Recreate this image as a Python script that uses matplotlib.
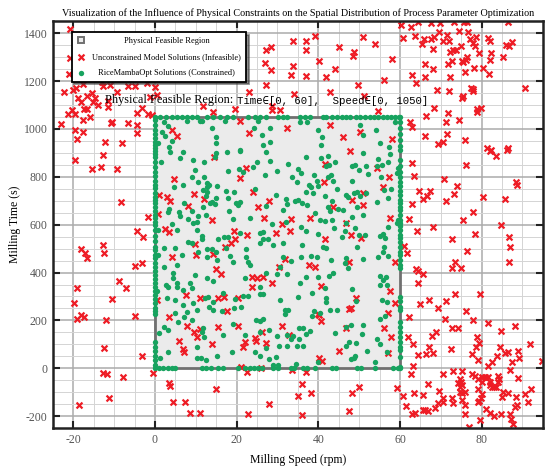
import matplotlib
matplotlib.use("Agg")
import matplotlib.pyplot as plt
from matplotlib.patches import Rectangle
from matplotlib.lines import Line2D
from matplotlib.ticker import MultipleLocator

plt.rcParams['font.family'] = ['Liberation Serif', 'DejaVu Serif']
plt.rcParams['axes.unicode_minus'] = False

# ---------------- data ----------------
title = "Visualization of the Influence of Physical Constraints on the Spatial Distribution of Process Parameter Optimization"
xlabel = "Milling Speed (rpm)"
ylabel = "Milling Time (s)"
legend_labels = ["Physical Feasible Region",
                 "Unconstrained Model Solutions (Infeasible)",
                 "RiceMambaOpt Solutions (Constrained)"]
note_left = "Physical Feasible Region: "
note_right = "Time\u2208[0, 60],  Speed\u2208[0, 1050]"
region_x = [0, 60]
region_y = [0, 1050]
xticks = [-20, 0, 20, 40, 60, 80]
yticks = [-200, 0, 200, 400, 600, 800, 1000, 1200, 1400]
xlim = [-25, 95]
ylim = [-250, 1450]

# unconstrained (infeasible) solutions
red_pts = [
    # upper-left cluster
    (-20.8, 1418), (-20.8, 1295), (-21.0, 1228), (-22.3, 1156), (-20.2, 1162), (-19.4, 1170),
    (-17.7, 1187), (-13.1, 1198), (-11.0, 1184), (-12.8, 1178), (-6.5, 1180), (-4.9, 1180),
    (-2.0, 1191), (0.0, 1177), (-9.4, 1153), (-15.5, 1152), (-16.7, 1138), (-18.8, 1131),
    (-18.2, 1111), (-14.7, 1128), (-15.1, 1111), (-11.4, 1117), (-13.9, 1100), (-11.4, 1093),
    (-20.4, 1079), (-17.4, 1082), (-16.7, 1082), (-21.2, 1061), (-19.6, 1061), (-15.9, 1049),
    (-17.6, 1038), (-22.9, 1019), (-19.6, 996), (-17.6, 989), (-19.2, 958), (-10.6, 1031),
    (-10.8, 1024), (-6.5, 1024), (-4.5, 1017), (-1.6, 1063), (-0.8, 1058), (-4.5, 1065),
    (-3.3, 1086), (-1.2, 1135), (0.4, 1142), (-12.3, 947), (-8.2, 943), (-4.3, 982),
    (4.1, 996), (5.3, 972),
    # upper-middle
    (11.7, 1098), (14.1, 1072), (19.6, 1082), (20.8, 1033), (23.1, 1153), (27.1, 1330),
    (28.3, 1344), (26.9, 1277), (28.3, 1247), (27.2, 1184), (28.6, 1098), (28.6, 1079),
    (30.6, 1079), (33.9, 1368), (33.7, 1263), (33.2, 1226), (34.1, 1145), (37.1, 1368),
    (37.0, 1330), (37.1, 1221), (39.2, 1390), (40.2, 1284), (41.9, 1219), (44.1, 1251),
    (42.9, 1156), (45.1, 1341), (48.8, 1320), (48.4, 1306), (49.6, 1184), (23.1, 982),
    (32.4, 1003), (42.9, 1017), (46.1, 968), (50.2, 989),
    # upper-right cluster
    (50.9, 1386), (53.9, 1355), (58.1, 1291), (56.2, 1205), (51.2, 1139), (54.7, 1075),
    (60.2, 1435), (62.6, 1425), (64.5, 1446), (67.5, 1442), (69.8, 1442), (73.3, 1449),
    (75.7, 1449), (76.5, 1446), (86.5, 1449), (60.7, 1382), (63.7, 1390), (65.9, 1376),
    (65.5, 1355), (67.5, 1376), (68.3, 1386), (69.6, 1404), (70.5, 1368), (71.6, 1393),
    (72.1, 1368), (74.5, 1410), (76.7, 1404), (77.2, 1376), (78.6, 1386), (78.0, 1358),
    (78.4, 1348), (81.6, 1382), (82.1, 1368), (86.0, 1351), (86.8, 1348), (87.4, 1365),
    (68.0, 1333), (72.2, 1323), (73.1, 1330), (73.7, 1332), (74.9, 1348), (72.7, 1284),
    (71.8, 1270), (75.1, 1284), (76.2, 1288), (76.5, 1302), (75.5, 1281), (79.4, 1316),
    (82.3, 1316), (82.0, 1288), (85.3, 1302), (66.1, 1270), (68.2, 1251), (72.3, 1219),
    (78.2, 1256), (80.4, 1256), (81.9, 1228), (75.9, 1237), (62.9, 1226), (66.1, 1219),
    (63.9, 1191), (69.0, 1163), (72.1, 1159), (77.3, 1173), (77.8, 1167), (78.0, 1159),
    (75.5, 1139), (75.1, 1131), (90.6, 1173), (68.3, 1089), (66.4, 1056), (71.8, 1065),
    (71.3, 1031), (74.5, 1038), (78.8, 1072), (79.8, 1089), (78.9, 1084), (62.5, 1031),
    (63.0, 1007), (66.1, 972), (71.6, 978), (70.5, 947), (69.4, 936), (75.9, 954),
    (58.1, 958), (81.2, 922), (82.2, 912), (86.5, 919),
    # middle-left
    (-19.6, 870), (-12.8, 891), (-15.5, 833), (-13.3, 843), (-9.2, 833), (-8.4, 694),
    (-1.6, 634), (-4.5, 574), (-2.9, 550), (-18.2, 497), (-17.2, 483), (-16.7, 462),
    (-12.8, 515), (-12.5, 480), (-4.9, 427), (-3.3, 441), (-8.8, 365),
    (4.6, 791), (1.1, 724), (3.0, 714), (3.7, 699), (0.8, 645), (2.4, 581), (3.4, 568),
    (9.5, 728), (8.0, 678), (9.8, 518), (4.1, 466), (10.0, 473),
    # middle (inside region)
    (14.4, 882), (22.3, 838), (20.7, 797), (23.9, 735), (12.0, 707), (14.0, 620),
    (25.3, 675), (27.8, 700), (26.8, 627), (31.0, 602), (33.3, 624), (29.6, 567),
    (33.1, 574), (38.0, 627), (41.6, 854), (41.4, 777), (47.8, 909), (50.9, 734),
    (48.2, 703), (51.0, 682), (43.7, 673), (46.7, 609), (47.9, 557), (50.5, 546),
    (41.7, 539), (19.3, 575), (22.5, 557), (19.6, 540), (18.5, 522), (17.1, 508),
    (14.3, 478), (14.9, 413), (16.1, 394), (23.7, 383), (25.1, 379), (26.4, 383),
    (30.4, 422), (31.8, 455), (37.6, 432), (39.2, 425), (47.6, 443), (28.6, 355),
    # middle-right
    (82.0, 909), (83.4, 889), (86.1, 912), (62.9, 859), (76.1, 850), (63.5, 805),
    (70.9, 790), (74.0, 763), (88.3, 780), (88.6, 766), (64.7, 742), (67.4, 741),
    (66.5, 721), (65.7, 706), (73.2, 727), (71.2, 700), (80.4, 714), (85.7, 707),
    (62.9, 685), (77.8, 654), (62.3, 624), (75.5, 620), (68.2, 592), (64.2, 575),
    (84.7, 599), (78.4, 561), (72.8, 539), (86.7, 547), (87.0, 505), (61.1, 512),
    (61.6, 480), (76.3, 492), (86.7, 446), (73.5, 446), (72.7, 420), (74.9, 418),
    (63.8, 415), (64.5, 408), (65.6, 394), (64.3, 358),
    (54.3, 836), (57.3, 801), (55.9, 756), (57.6, 627), (58.8, 446),
    # lower-left
    (-19.0, 337), (-7.2, 337), (-19.8, 271), (-10.6, 288), (-19.0, 206), (-18.0, 223),
    (-17.4, 213), (-12.1, 202), (-4.9, 219), (-12.5, 86), (-3.3, 51), (-12.7, -21),
    (-11.7, -25), (-7.8, -38), (-0.6, -18), (-11.2, -126), (-18.5, -153), (3.5, -60),
    (3.7, -74), (4.3, -142), (7.3, -142), (8.6, -188), (11.0, -185),
    (0.4, 285), (7.5, 306), (3.5, 213), (7.8, 177), (6.0, 114), (6.8, 79), (7.1, 67),
    (9.5, 150), (10.2, 132), (10.9, 164), (11.0, 295),
    # lower-middle
    (23.7, 341), (15.5, 295), (16.9, 299), (20.4, 295), (17.6, 241), (15.5, 174),
    (20.4, 178), (13.9, 100), (22.0, 109), (21.6, 90), (24.5, 125), (24.7, 115),
    (26.1, 153), (27.2, 104), (31.0, 177), (32.9, 139), (39.8, 225), (40.2, 223),
    (40.6, 198), (40.2, 44), (40.8, 32), (45.1, 72), (47.5, 248), (48.0, 253),
    (49.2, 295), (46.7, 167), (40.6, 344),
    (21.0, 7), (22.5, -17), (25.9, 0), (33.5, -7), (37.0, -17), (14.9, -88), (36.1, -67),
    (35.1, -114), (38.2, -102), (28.0, -149), (22.9, -191), (36.1, -195), (48.2, -102),
    (50.0, -78), (47.5, -177),
    # lower-right cluster
    (57.6, 323), (58.9, 274), (57.1, 230), (56.2, 167), (57.8, 129), (57.1, 62),
    (73.5, 310), (79.6, 309), (64.9, 269), (67.1, 285), (71.3, 281), (69.2, 253),
    (62.2, 213), (76.1, 241), (71.0, 205), (78.0, 202), (72.7, 167), (74.3, 170),
    (81.6, 188), (88.2, 177), (84.7, 156), (68.7, 150), (67.8, 135), (61.9, 132),
    (78.8, 129), (79.4, 104), (78.5, 88), (63.1, 100), (67.2, 90), (72.5, 79),
    (84.5, 88), (91.8, 102), (64.5, 56), (66.3, 61), (68.2, 62), (77.6, 60),
    (79.0, 35), (83.7, 51), (85.7, 62), (86.5, 69), (88.8, 72), (87.5, 28),
    (89.2, 42), (82.6, 28), (81.6, 10), (94.7, 30), (63.1, 11), (62.7, -25),
    (70.5, -25), (73.1, -10), (75.3, -10), (77.7, -24), (78.4, -31), (80.0, -38),
    (80.8, -35), (81.6, -35), (79.2, -46), (80.0, -56), (74.7, -46), (75.0, -59),
    (75.3, -70), (74.7, -77), (74.3, -60), (84.1, -31), (84.3, -46), (84.1, -56),
    (86.9, -7), (89.0, -42), (82.0, -56), (82.5, -80), (83.0, -80), (83.4, -80),
    (82.0, -70), (85.3, -100), (86.5, -102), (84.9, -121), (90.6, -109), (92.1, -88),
    (91.4, -142), (88.3, -119), (88.6, -153), (88.2, -160), (86.9, -192), (87.2, -213),
    (87.6, -234), (79.6, -216), (77.0, -247), (84.7, -192), (83.0, -199), (82.0, -185),
    (81.1, -172), (75.9, -191), (75.8, -153), (75.3, -132), (75.3, -105), (75.9, -100),
    (74.7, -98), (79.2, -88), (80.2, -109), (79.8, -126), (79.4, -137), (79.2, -142),
    (72.7, -126), (72.9, -144), (70.6, -126), (70.6, -140), (69.6, -95), (69.2, -146),
    (68.6, -164), (66.9, -178), (66.1, -174), (65.6, -174), (63.7, -185), (62.9, -192),
    (61.4, -156), (60.7, -114), (63.5, -105), (65.7, -112), (59.2, -81), (66.9, -67),
]
red_x = [p[0] for p in red_pts]
red_y = [p[1] for p in red_pts]

# constrained solutions: points lying on the region border
top_edge_x = [0, 1.2, 2.7, 4.1, 5.3, 6.5, 7.8, 9.0, 10.2, 12.7, 14.3, 15.9, 17.6, 19.2, 22.9,
              24.5, 25.7, 27.3, 30.2, 31.4, 32.4, 35.5, 36.7, 38.0, 41.1, 42.0, 43.3, 44.5,
              45.7, 46.9, 47.8, 49.2, 50.2, 51.4, 52.7, 53.6, 54.7, 55.8, 56.7, 57.7, 58.8, 59.8]
left_edge_y = [1038, 1017, 996, 979, 964, 947, 933, 919, 909, 896, 882, 863, 840, 822, 804,
               784, 766, 752, 731, 717, 703, 689, 673, 657, 641, 627, 613, 599, 578, 553, 533,
               508, 494, 473, 459, 439, 425, 408, 390, 373, 355, 341, 323, 306, 290, 271, 253,
               239, 225, 108, 90, 72, 53, 35, 14, 0]
right_edge_y = [1050, 1028, 1003, 978, 954, 930, 912, 870, 845, 822, 801, 780, 762, 742, 724,
                703, 689, 675, 661, 641, 620, 609, 595, 578, 557, 543, 529, 508, 487, 473, 452,
                432, 418, 299, 281, 258, 244, 195, 174, 153, 132, 111, 90, 76, 48, 6, 0]
bottom_edge_x = [1.1, 1.9, 3.3, 4.1, 4.9, 11.4, 12.5, 13.7, 15.5, 16.7, 20.4, 22.0, 23.3, 24.2,
                 25.3, 26.1, 29.0, 30.2, 33.2, 34.0, 36.2, 37.3, 39.2, 43.3, 44.3, 49.4, 50.5,
                 53.9, 58.4, 59.4]

# constrained solutions: interior points
green_inner = [
    (2.3, 1031), (3.3, 1014), (1.6, 989), (2.4, 972), (4.1, 950), (0.8, 940), (3.5, 926),
    (7.8, 1033), (10.9, 1033),
    (11.4, 1033), (13.9, 1003), (14.9, 968), (17.1, 1033), (20.8, 912), (25.3, 1033),
    (24.3, 1003), (26.1, 975), (28.2, 1006), (26.5, 933), (28.2, 947), (35.5, 1031),
    (37.3, 1031), (39.8, 996), (40.8, 968), (40.6, 933), (50.2, 1017), (14.9, 940),
    (54.1, 996), (51.0, 975), (55.1, 940), (57.4, 926), (58.8, 1028),
    (1.4, 861), (3.7, 905), (6.8, 902), (6.1, 877), (9.2, 870), (9.8, 829), (9.0, 801),
    (6.9, 766), (10.6, 780), (4.6, 759), (3.3, 654), (3.5, 664), (5.9, 654), (7.1, 689),
    (9.0, 659), (6.1, 636), (8.2, 624), (10.6, 636), (10.2, 613), (9.2, 609), (4.1, 603),
    (0.8, 578), (5.3, 578), (10.2, 578), (8.2, 529), (9.0, 525), (2.2, 501), (4.9, 501),
    (6.5, 473), (0.8, 473), (10.6, 487), (2.2, 425), (5.3, 432), (4.3, 400), (9.8, 390),
    (4.3, 376), (5.3, 358), (2.7, 348), (8.6, 355),
    (14.9, 898), (14.7, 881), (12.0, 863), (17.7, 905), (20.8, 909), (27.3, 905), (37.0, 881),
    (40.6, 877), (42.4, 887), (44.1, 863), (42.7, 849), (41.9, 845), (51.0, 901), (49.0, 849),
    (48.2, 845), (51.7, 847), (17.9, 826), (20.6, 831), (21.5, 822), (23.9, 843), (25.1, 863),
    (28.2, 866), (32.6, 852), (29.8, 826), (26.9, 808), (35.1, 833), (35.7, 817), (33.5, 801),
    (34.7, 780), (38.9, 808), (39.6, 784), (43.0, 808), (43.5, 784), (42.4, 801), (50.0, 829),
    (52.2, 812), (12.0, 801), (12.7, 773), (13.3, 766), (12.8, 756), (15.3, 763), (11.8, 745),
    (12.7, 738), (12.5, 721), (17.3, 742), (19.4, 735), (14.9, 713), (13.9, 696), (13.5, 689),
    (14.7, 686), (17.9, 710), (20.8, 696), (19.8, 689), (24.5, 748), (29.6, 724), (32.1, 707),
    (34.4, 700), (35.1, 703), (37.0, 738), (37.6, 766), (38.1, 756), (38.8, 731), (40.0, 762),
    (41.6, 721), (44.5, 748), (48.2, 784), (46.9, 724), (47.3, 714), (48.7, 734), (49.4, 738),
    (50.2, 720), (51.7, 731), (11.7, 675), (12.5, 640), (18.2, 658), (20.4, 682), (27.2, 678),
    (31.4, 661), (32.4, 686), (35.9, 689), (37.3, 682), (39.2, 647), (43.3, 700), (42.4, 675),
    (42.9, 657), (44.7, 664), (46.1, 661), (49.4, 675), (51.0, 640), (48.2, 634), (19.2, 624),
    (23.3, 627), (28.6, 603), (32.1, 613), (35.8, 589), (37.0, 575), (40.4, 620), (41.6, 617),
    (43.3, 620), (43.8, 588), (46.8, 606), (46.5, 575), (49.0, 585), (50.0, 557), (51.4, 557),
    (11.4, 554), (15.5, 540), (16.9, 547), (17.9, 547), (20.7, 567), (25.6, 564), (26.5, 568),
    (26.4, 539), (27.6, 539), (31.4, 522), (35.9, 515), (40.0, 561), (41.2, 508), (45.7, 547),
    (49.4, 508), (11.4, 539), (12.8, 497), (13.9, 497), (14.9, 484), (12.7, 466), (18.4, 469),
    (19.2, 445), (15.1, 452), (17.4, 501), (22.4, 497), (22.2, 464), (22.9, 445), (25.6, 522),
    (28.8, 515), (31.4, 466), (33.2, 450), (35.8, 466), (38.1, 469), (39.6, 464), (41.9, 501),
    (43.1, 452), (46.8, 459), (51.0, 458), (46.5, 439), (23.3, 432), (27.3, 397), (29.9, 393),
    (32.4, 394), (12.8, 376), (14.1, 366), (22.0, 376), (37.1, 383), (39.8, 383), (42.7, 386),
    (43.5, 400), (47.3, 418), (30.6, 425), (35.5, 355),
    (57.6, 895), (54.5, 873), (55.5, 849), (54.3, 845), (57.0, 863), (59.2, 815), (59.6, 836),
    (55.4, 801), (57.8, 748), (56.2, 745), (57.0, 710), (54.3, 696), (57.1, 589), (55.9, 560),
    (56.3, 543), (55.1, 553), (56.2, 505), (55.9, 487), (57.0, 469), (54.5, 464), (55.1, 386),
    (55.9, 369), (56.5, 383), (59.2, 606), (59.6, 620),
    (0.4, 323), (3.3, 341), (5.3, 341), (6.8, 327), (9.0, 334), (2.9, 295), (4.9, 285),
    (6.9, 264), (9.4, 271), (10.2, 244), (7.8, 237), (4.9, 230), (7.1, 216), (5.7, 192),
    (2.2, 174), (3.3, 160), (1.1, 146), (9.0, 202), (11.4, 153), (10.2, 90), (3.1, 67),
    (1.2, 42), (10.2, 44), (11.3, 42),
    (12.2, 292), (13.1, 299), (14.3, 278), (13.3, 257), (14.1, 244), (16.7, 313), (16.3, 239),
    (19.6, 290), (19.3, 253), (21.0, 257), (21.5, 303), (22.9, 303), (25.6, 341), (26.5, 309),
    (25.6, 309), (30.6, 285), (31.8, 244), (32.6, 244), (31.8, 225), (35.1, 299), (38.4, 313),
    (41.6, 334), (41.9, 295), (41.9, 276), (42.9, 244), (44.5, 244), (40.4, 230), (38.4, 220),
    (38.9, 241), (48.2, 331), (49.2, 281), (11.8, 167), (12.0, 132), (16.7, 139), (19.0, 184),
    (22.0, 139), (24.7, 202), (25.7, 198), (26.5, 205), (25.6, 153), (28.0, 160), (30.0, 135),
    (32.4, 139), (33.7, 136), (33.2, 122), (35.3, 167), (36.2, 167), (37.1, 142), (38.0, 156),
    (35.3, 122), (36.3, 93), (34.7, 93), (32.4, 93), (30.4, 93), (27.3, 83), (24.5, 69),
    (25.7, 53), (27.8, 39), (29.6, 48), (29.0, 14), (30.2, 14), (34.5, 18), (40.0, 25),
    (44.1, 146), (46.8, 174), (47.9, 181), (46.9, 94), (47.6, 108), (49.2, 104), (48.7, 44),
    (47.9, 39), (49.0, 53), (50.6, 142), (51.0, 181), (51.8, 72), (15.3, 53), (12.4, 35),
    (18.8, 69),
    (55.1, 348), (56.7, 348), (55.7, 285), (56.7, 276), (56.3, 220), (55.1, 205), (54.3, 122),
    (55.1, 100), (56.7, 69), (53.9, 25),
]

green_x = (top_edge_x + [0] * len(left_edge_y) + [60] * len(right_edge_y) + bottom_edge_x
           + [p[0] for p in green_inner])
green_y = ([1050] * len(top_edge_x) + left_edge_y + right_edge_y + [0] * len(bottom_edge_x)
           + [p[1] for p in green_inner])

# ---------------- styling ----------------
RED = '#ee1c25'
GREEN = '#17a35f'
REGION_FACE = '#ebebeb'
REGION_EDGE = '#707070'

fig = plt.figure(figsize=(5.5, 4.72), dpi=100)
ax = fig.add_axes([0.0962, 0.0930, 0.8909, 0.8619])

ax.set_xlim(*xlim)
ax.set_ylim(*ylim)
ax.xaxis.set_minor_locator(MultipleLocator(5))
ax.yaxis.set_minor_locator(MultipleLocator(50))
ax.set_xticks(xticks)
ax.set_yticks(yticks)
ax.set_axisbelow(True)
ax.grid(which='major', color='#ababab', linewidth=1.1, zorder=0)
ax.grid(which='minor', color='#d4d4d4', linewidth=0.7, zorder=0)

for s in ax.spines.values():
    s.set_linewidth(1.8)
    s.set_color('#222222')
ax.tick_params(which='major', direction='in', top=True, right=True, length=5, width=1.5,
               labelsize=8.5, pad=4, colors='#222222', labelcolor='#555555')
ax.tick_params(which='minor', length=0)

rect = Rectangle((region_x[0], region_y[0]), region_x[1] - region_x[0], region_y[1] - region_y[0],
                 facecolor=REGION_FACE, edgecolor=REGION_EDGE, linewidth=2.0, zorder=1)
ax.add_patch(rect)

h_red = ax.scatter(red_x, red_y, marker='x', s=18, c=RED, linewidths=1.6, zorder=2)
h_green = ax.scatter(green_x, green_y, marker='o', s=15, c=GREEN, linewidths=0, zorder=3)

ax.set_title(title, fontsize=7.3, pad=4)
ax.set_xlabel(xlabel, fontsize=8.5, labelpad=6)
ax.set_ylabel(ylabel, fontsize=8.5, labelpad=2)

t1 = ax.text(-12.2, 1109, note_left, fontsize=8.8, va='baseline', ha='left', zorder=5)
ax.annotate(note_right, xy=(1, 0), xycoords=t1, va='bottom', ha='left', fontsize=7.7,
            family=['Liberation Mono', 'DejaVu Sans Mono'], zorder=5)

h_sq = Line2D([], [], linestyle='none', marker='s', markersize=4.5, markerfacecolor=REGION_FACE,
              markeredgecolor=REGION_EDGE, markeredgewidth=1.4)
leg = ax.legend([h_sq, h_red, h_green], legend_labels, loc='upper left',
                bbox_to_anchor=(0.038, 0.974), borderaxespad=0, fancybox=False,
                edgecolor='black', framealpha=1, fontsize=6.0, handletextpad=0.9,
                borderpad=0.6, labelspacing=0.95, handlelength=1.0,
                shadow={'color': '#333333', 'alpha': 0.55})
leg.get_frame().set_linewidth(1.3)
leg.set_zorder(10)

fig.canvas.draw()
r = fig.canvas.get_renderer()
widths = [t.get_window_extent(r).width for t in leg.get_texts()]
W = max(widths)
for t, w in zip(leg.get_texts(), widths):
    t.set_position(((W - w) / 2, 0))

fig.savefig('out.png', dpi=100)
